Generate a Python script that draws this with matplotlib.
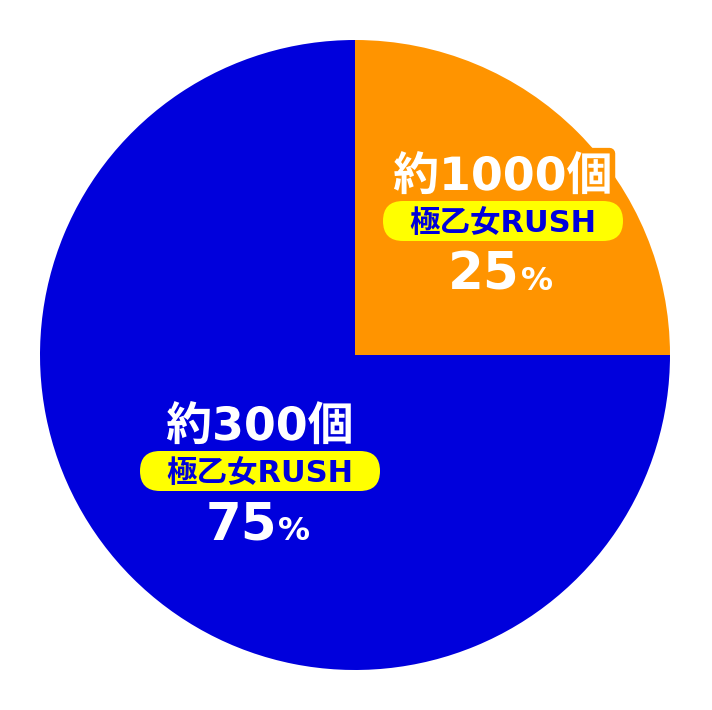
import matplotlib
matplotlib.use('Agg')
import matplotlib.pyplot as plt
from matplotlib.patches import FancyBboxPatch
import matplotlib.patheffects as pe

# slice data (clockwise from 12 o'clock)
shares = [25, 75]
counts = ['約1000個', '約300個']
mode_label = '極乙女RUSH'
slice_colors = ['#FF9400', '#0000DC']

FONT = ['DejaVu Sans', 'Noto Sans CJK JP']

fig = plt.figure(figsize=(7.12, 7.10), dpi=100)
ax = fig.add_axes([0, 0, 1, 1])

ax.pie(shares, colors=slice_colors, startangle=90, counterclock=False,
       radius=315, center=(355, 355), frame=True,
       wedgeprops=dict(linewidth=0))
ax.set_xlim(0, 712)
ax.set_ylim(0, 710)
ax.set_aspect('equal')
ax.axis('off')

# centre of the yellow pill for each label block (pixel coords, y from top)
anchors = [(503, 221), (260, 471)]

for share, cnt, (x, y), col in zip(shares, counts, anchors, slice_colors):
    yc = 710 - y
    stroke = [pe.withStroke(linewidth=8, foreground=col)]
    ax.text(x, yc + 31, cnt, ha='center', va='baseline', color='white',
            fontsize=33, fontweight='bold', family=FONT, path_effects=stroke)
    # yellow pill behind the mode name
    bw, bh = 240, 40
    box = FancyBboxPatch((x - bw / 2, yc - bh / 2), bw, bh,
                         boxstyle='round,pad=0,rounding_size=20',
                         facecolor='#FFFF00', edgecolor='none')
    ax.add_patch(box)
    ax.text(x, yc - 11, mode_label, ha='center', va='baseline', color='#0000DC',
            fontsize=22, fontweight='bold', family=FONT)
    ax.text(x + 17, yc - 69, str(share), ha='right', va='baseline', color='white',
            fontsize=37, fontweight='bold', family=FONT)
    ax.text(x + 18, yc - 69, '%', ha='left', va='baseline', color='white',
            fontsize=23, fontweight='bold', family=FONT)

fig.savefig('out.png', dpi=100)
